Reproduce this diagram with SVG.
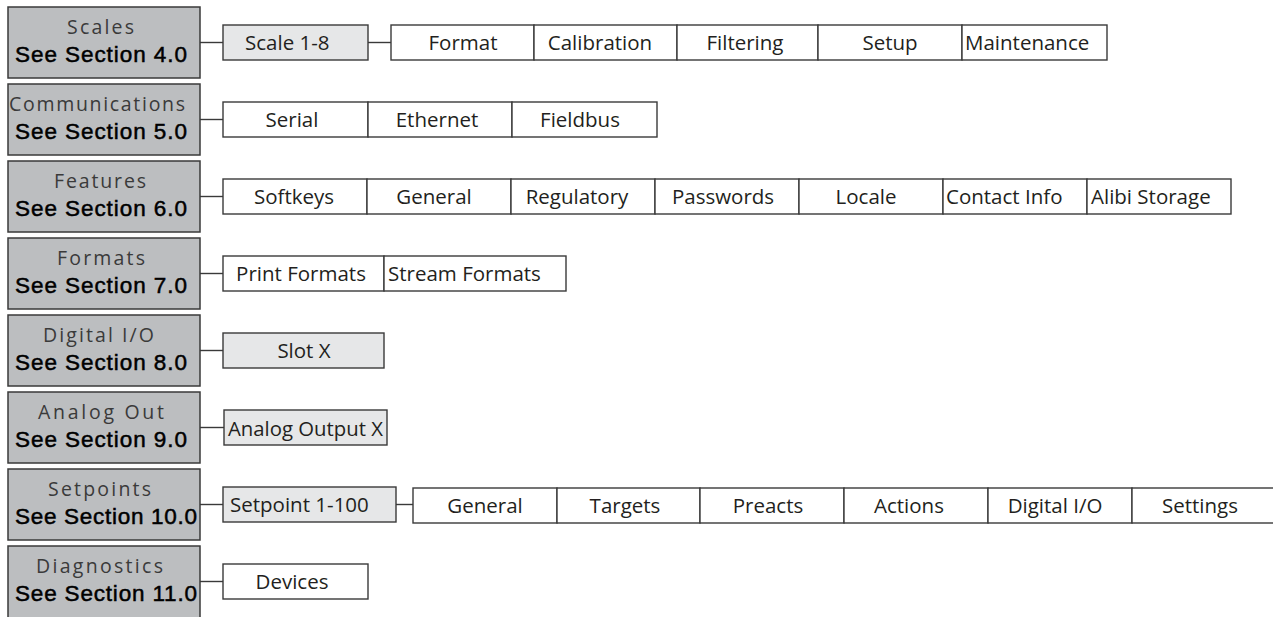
<svg xmlns="http://www.w3.org/2000/svg" width="1273" height="617" viewBox="0 0 1273 617">
<style>
.p{fill:#bcbec0;stroke:#3a3a3a;stroke-width:1.5}
.c{fill:#ffffff;stroke:#3a3a3a;stroke-width:1.4}
.g{fill:#e6e7e8;stroke:#3a3a3a;stroke-width:1.4}
.lbl{font-family:"Open Sans","DejaVu Sans",sans-serif;font-size:19.5px;fill:#3a3a3a}
.sec{font-family:"Liberation Sans",Arial,sans-serif;font-size:22.5px;fill:#000;stroke:#000;stroke-width:0.5}
.t{font-family:"Open Sans","DejaVu Sans",sans-serif;font-size:20.5px;fill:#231f20}
.m{text-anchor:middle}
.ln{stroke:#3a3a3a;stroke-width:1.4;fill:none}
</style>
<rect width="1273" height="617" fill="#ffffff"/>
<g id="connectors">
<line class="ln" x1="200" y1="42.5" x2="223" y2="42.5"/>
<line class="ln" x1="368" y1="42.5" x2="391" y2="42.5"/>
<line class="ln" x1="200" y1="119.5" x2="223" y2="119.5"/>
<line class="ln" x1="200" y1="196.5" x2="223" y2="196.5"/>
<line class="ln" x1="200" y1="273.5" x2="223" y2="273.5"/>
<line class="ln" x1="200" y1="350.5" x2="223" y2="350.5"/>
<line class="ln" x1="200" y1="427.5" x2="224" y2="427.5"/>
<line class="ln" x1="200" y1="504.5" x2="223" y2="504.5"/>
<line class="ln" x1="396" y1="504.5" x2="413" y2="504.5"/>
<line class="ln" x1="200" y1="581.5" x2="223" y2="581.5"/>
</g>
<g id="scales">
<rect class="p" x="8" y="7" width="192" height="71"/>
<text class="lbl" x="67" y="34" textLength="67" lengthAdjust="spacing">Scales</text>
<text class="sec" x="15" y="62" textLength="172" lengthAdjust="spacing">See Section 4.0</text>
</g>
<g id="scale18"><rect class="g" x="223" y="25" width="145" height="35"/><text class="t" x="245" y="50">Scale 1-8</text></g>
<g id="format"><rect class="c" x="391" y="25" width="143" height="35"/><text class="t m" x="463" y="50">Format</text></g>
<g id="calibration"><rect class="c" x="534" y="25" width="143" height="35"/><text class="t m" x="600" y="50">Calibration</text></g>
<g id="filtering"><rect class="c" x="677" y="25" width="141" height="35"/><text class="t m" x="745" y="50">Filtering</text></g>
<g id="setup"><rect class="c" x="818" y="25" width="144" height="35"/><text class="t m" x="890" y="50">Setup</text></g>
<g id="maintenance"><rect class="c" x="962" y="25" width="145" height="35"/><text class="t" x="965" y="50">Maintenance</text></g>

<g id="communications">
<rect class="p" x="8" y="84" width="192" height="71"/>
<text class="lbl" x="9" y="111" textLength="176" lengthAdjust="spacing">Communications</text>
<text class="sec" x="15" y="139" textLength="172" lengthAdjust="spacing">See Section 5.0</text>
</g>
<g id="serial"><rect class="c" x="223" y="102" width="145" height="35"/><text class="t m" x="292" y="127">Serial</text></g>
<g id="ethernet"><rect class="c" x="368" y="102" width="144" height="35"/><text class="t m" x="437" y="127">Ethernet</text></g>
<g id="fieldbus"><rect class="c" x="512" y="102" width="145" height="35"/><text class="t m" x="580" y="127">Fieldbus</text></g>

<g id="features">
<rect class="p" x="8" y="161" width="192" height="71"/>
<text class="lbl" x="54" y="188" textLength="92" lengthAdjust="spacing">Features</text>
<text class="sec" x="15" y="216" textLength="172" lengthAdjust="spacing">See Section 6.0</text>
</g>
<g id="softkeys"><rect class="c" x="223" y="179" width="144" height="35"/><text class="t m" x="294" y="204">Softkeys</text></g>
<g id="general1"><rect class="c" x="367" y="179" width="144" height="35"/><text class="t m" x="434" y="204">General</text></g>
<g id="regulatory"><rect class="c" x="511" y="179" width="144" height="35"/><text class="t m" x="577" y="204">Regulatory</text></g>
<g id="passwords"><rect class="c" x="655" y="179" width="144" height="35"/><text class="t m" x="723" y="204">Passwords</text></g>
<g id="locale"><rect class="c" x="799" y="179" width="144" height="35"/><text class="t m" x="866" y="204">Locale</text></g>
<g id="contactinfo"><rect class="c" x="943" y="179" width="144" height="35"/><text class="t" x="946" y="204">Contact Info</text></g>
<g id="alibistorage"><rect class="c" x="1087" y="179" width="144" height="35"/><text class="t" x="1091" y="204">Alibi Storage</text></g>

<g id="formats">
<rect class="p" x="8" y="238" width="192" height="71"/>
<text class="lbl" x="57" y="265" textLength="88" lengthAdjust="spacing">Formats</text>
<text class="sec" x="15" y="293" textLength="172" lengthAdjust="spacing">See Section 7.0</text>
</g>
<g id="printformats"><rect class="c" x="223" y="256" width="161" height="35"/><text class="t m" x="301" y="281">Print Formats</text></g>
<g id="streamformats"><rect class="c" x="384" y="256" width="182" height="35"/><text class="t" x="388" y="281">Stream Formats</text></g>

<g id="digitalio">
<rect class="p" x="8" y="315" width="192" height="71"/>
<text class="lbl" x="43" y="342" textLength="111" lengthAdjust="spacing">Digital I/O</text>
<text class="sec" x="15" y="370" textLength="172" lengthAdjust="spacing">See Section 8.0</text>
</g>
<g id="slotx"><rect class="g" x="223" y="333" width="161" height="35"/><text class="t m" x="304" y="358">Slot X</text></g>

<g id="analogout">
<rect class="p" x="8" y="392" width="192" height="71"/>
<text class="lbl" x="38" y="419" textLength="126" lengthAdjust="spacing">Analog Out</text>
<text class="sec" x="15" y="447" textLength="172" lengthAdjust="spacing">See Section 9.0</text>
</g>
<g id="analogoutputx"><rect class="g" x="224" y="410" width="163" height="35"/><text class="t" x="228" y="436" textLength="155" lengthAdjust="spacingAndGlyphs">Analog Output X</text></g>

<g id="setpoints">
<rect class="p" x="8" y="469" width="192" height="71"/>
<text class="lbl" x="48" y="496" textLength="103" lengthAdjust="spacing">Setpoints</text>
<text class="sec" x="15" y="524" textLength="182" lengthAdjust="spacing">See Section 10.0</text>
</g>
<g id="setpoint1100"><rect class="g" x="223" y="487" width="173" height="35"/><text class="t" x="230" y="512">Setpoint 1-100</text></g>
<g id="general2"><rect class="c" x="413" y="488" width="144" height="35"/><text class="t m" x="485" y="513">General</text></g>
<g id="targets"><rect class="c" x="557" y="488" width="143" height="35"/><text class="t m" x="625" y="513">Targets</text></g>
<g id="preacts"><rect class="c" x="700" y="488" width="144" height="35"/><text class="t m" x="768" y="513">Preacts</text></g>
<g id="actions"><rect class="c" x="844" y="488" width="144" height="35"/><text class="t m" x="909" y="513">Actions</text></g>
<g id="digitalio2"><rect class="c" x="988" y="488" width="144" height="35"/><text class="t m" x="1055" y="513">Digital I/O</text></g>
<g id="settings"><rect class="c" x="1132" y="488" width="150" height="35"/><text class="t m" x="1200" y="513">Settings</text></g>

<g id="diagnostics">
<rect class="p" x="8" y="546" width="192" height="80"/>
<text class="lbl" x="36" y="573" textLength="127" lengthAdjust="spacing">Diagnostics</text>
<text class="sec" x="15" y="601" textLength="182" lengthAdjust="spacing">See Section 11.0</text>
</g>
<g id="devices"><rect class="c" x="223" y="564" width="145" height="35"/><text class="t m" x="292" y="589">Devices</text></g>
</svg>
